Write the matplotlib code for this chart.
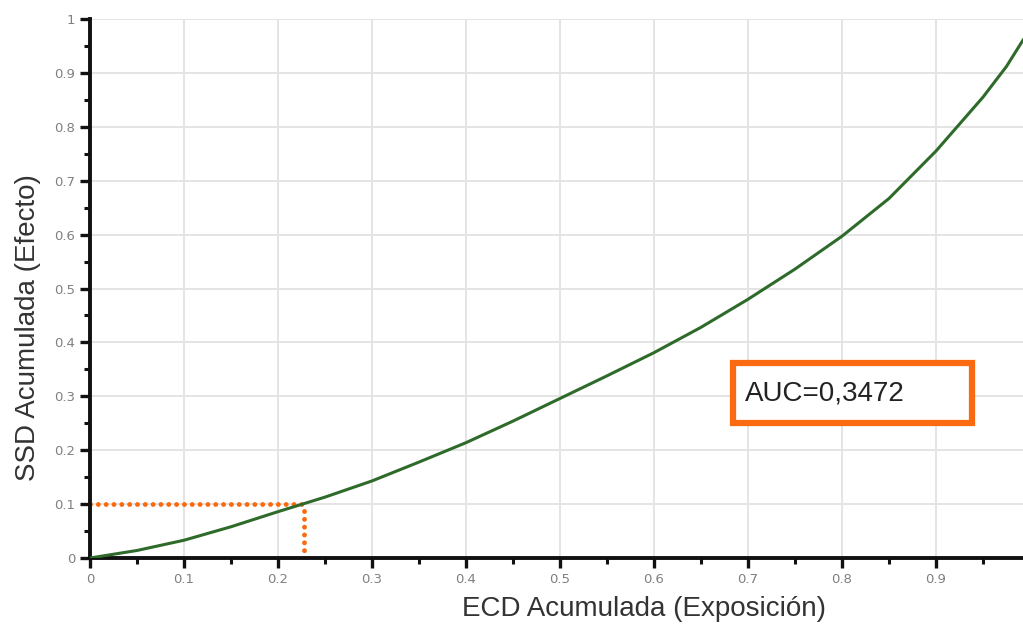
import numpy as np
import matplotlib.pyplot as plt
from matplotlib.ticker import MultipleLocator, FuncFormatter
from matplotlib.patches import Rectangle

# cumulative exposure (x) vs cumulative effect (y)
ecd = [0.0, 0.05, 0.10, 0.15, 0.20, 0.25, 0.30, 0.35, 0.40, 0.45, 0.50,
       0.55, 0.60, 0.65, 0.70, 0.75, 0.80, 0.85, 0.90, 0.95, 0.975, 0.993]
ssd = [0.0, 0.014, 0.033, 0.058, 0.086, 0.113, 0.143, 0.178, 0.214, 0.254, 0.296,
       0.338, 0.381, 0.428, 0.480, 0.536, 0.597, 0.667, 0.755, 0.855, 0.912, 0.962]

ref_x = 0.228
ref_y = 0.1
auc_label = "AUC=0,3472"

orange = "#FA6A10"
green = "#2E6B2A"
label_font = ["Liberation Sans", "DejaVu Sans"]

fig = plt.figure(figsize=(10.23, 6.26), dpi=100)
ax = fig.add_axes([0.088, 0.1086, 0.912, 0.861])

ax.plot(ecd, ssd, color=green, lw=2.2, solid_capstyle="round",
        solid_joinstyle="round", zorder=3)

dots = (0, (0.01, 1.6))
ax.plot([0, ref_x], [ref_y, ref_y], color=orange, lw=3.5, ls=dots,
        dash_capstyle="round", zorder=2)
ax.plot([ref_x, ref_x], [0, ref_y], color=orange, lw=3.5, ls=dots,
        dash_capstyle="round", zorder=2)

ax.set_xlim(0, 0.9926)
ax.set_ylim(0, 1.0)

ax.xaxis.set_major_locator(MultipleLocator(0.1))
ax.xaxis.set_minor_locator(MultipleLocator(0.05))
ax.yaxis.set_major_locator(MultipleLocator(0.1))
ax.yaxis.set_minor_locator(MultipleLocator(0.05))
fmt = FuncFormatter(lambda v, p: "%g" % round(v, 2))
ax.xaxis.set_major_formatter(fmt)
ax.yaxis.set_major_formatter(fmt)

ax.grid(True, which="major", color="#e4e4e4", lw=1.4, zorder=0)
ax.set_axisbelow(True)

for s in ("top", "right"):
    ax.spines[s].set_visible(False)
for s in ("left", "bottom"):
    ax.spines[s].set_linewidth(2.8)
    ax.spines[s].set_color("#111111")

ax.tick_params(which="major", length=7, width=2.4, color="#111111",
               labelsize=9.5, labelcolor="#808080", pad=3.5)
ax.tick_params(which="minor", length=4.5, width=2.2, color="#111111")

ax.set_xlabel("ECD Acumulada (Exposición)", fontsize=20, color="#333333",
              family=label_font, va="center")
ax.set_ylabel("SSD Acumulada (Efecto)", fontsize=20, color="#333333",
              family=label_font, va="center")
ax.xaxis.set_label_coords(0.594, -0.095)
ax.yaxis.set_label_coords(-0.067, 0.427)

# AUC annotation box
box = Rectangle((0.684, 0.25), 0.254, 0.111, facecolor="white", edgecolor=orange,
                lw=4.5, zorder=4)
ax.add_patch(box)
ax.text(0.697, 0.306, auc_label, fontsize=20, color="#222222", va="center",
        ha="left", family=label_font, zorder=5)

fig.savefig("out.png", dpi=100)
